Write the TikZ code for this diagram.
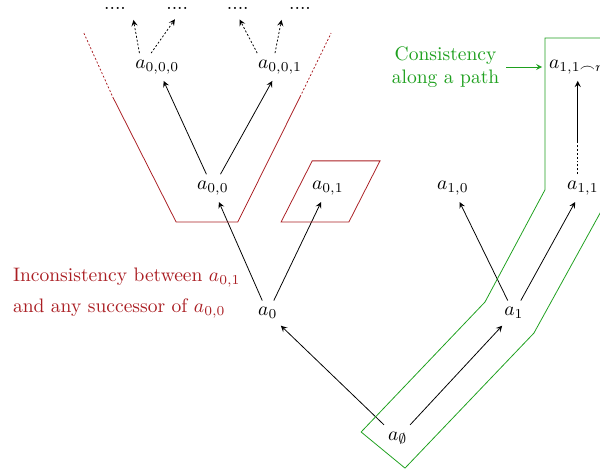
\documentclass[tikz,border=0pt]{standalone}
\usepackage{amsmath,amssymb}
\usetikzlibrary{calc}
\definecolor{incons}{RGB}{170,30,35}
\definecolor{cons}{RGB}{30,160,30}

\begin{document}
\begin{tikzpicture}[>=stealth,dotpath/.style={dash pattern=on 1pt off 1pt}]
                \useasboundingbox (0,0) rectangle (10.8,8.496);
                % the tree
                \node (ae) at (7.16,0.61) {\(a_\emptyset\)};
                \node (a0) at (4.82,2.86) {\(a_0\)};
                \node (a1) at (9.25,2.86) {\(a_1\)};
                \node (a00) at (3.83,5.11) {\(a_{0,0}\)};
                \node (a01) at (5.90,5.11) {\(a_{0,1}\)};
                \node (a10) at (8.15,5.11) {\(a_{1,0}\)};
                \node (a11) at (10.49,5.11) {\(a_{1,1}\)};
                \node (a000) at (2.83,7.29) {\(a_{0,0,0}\)};
                \node (a001) at (5.04,7.29) {\(a_{0,0,1}\)};
                \node[anchor=west] (a11n) at (9.76,7.29) {\(a_{1,1\frown n}\)};
                \node (d1) at (2.07,8.35) {....};
                \node (d2) at (3.19,8.35) {....};
                \node (d3) at (4.28,8.35) {....};
                \node (d4) at (5.40,8.35) {....};
                \draw[->] (ae)--(a0);
                \draw[->] (ae)--(a1);
                \draw[->] (a0)--(a00);
                \draw[->] (a0)--(a01);
                \draw[->] (a1)--(a10);
                \draw[->] (a1)--(a11);
                \draw[->] (a00)--(a000);
                \draw[->] (a00)--(a001);
                \draw[->,dotpath,shorten >=2pt] ($(a000.north)+(-0.32,0)$)--(d1.south east);
                \draw[->,dotpath,shorten >=2pt] ($(a000.north)+(-0.11,0)$)--(d2.south);
                \draw[->,dotpath,shorten >=2pt] ($(a001.north)+(-0.41,0)$)--(d3.south);
                \draw[->,dotpath,shorten >=2pt] ($(a001.north)+(-0.09,0)$)--(d4.south west);
                \coordinate (mid) at (10.40,5.92);
                \draw[dotpath] (a11.north -| mid)--(mid);
                \draw[->] (mid)--(mid |- a11n.south);
                % inconsistency
                \draw[incons,dotpath] (1.51,7.90)--(2.03,6.75);
                \draw[incons] (2.03,6.75)--(3.17,4.50)--(4.28,4.50)--(5.40,6.75);
                \draw[incons,dotpath] (5.40,6.75)--(5.96,7.90);
                \draw[incons] (5.62,5.60)--(6.84,5.60)--(6.28,4.50)--(5.06,4.50)--cycle;
                \node[anchor=west,align=left,text=incons] (inc) at (0.11,3.22)
                    {Inconsistency between \(a_{0,1}\)\\[4pt]and any successor of \(a_{0,0}\)};
                % consistency
                \draw[cons] (11.16,7.81)--(9.81,7.81)--(9.81,5.08)--(8.73,3.06)--(6.50,0.72)
                    --(7.29,0.07)--(9.61,2.50)--(11.16,5.31);
                \node[align=center,text=cons] (con) at (8.02,7.29) {Consistency\\along a path};
                \draw[->,cons] (con.east)--(a11n.west);
            \end{tikzpicture}
\end{document}
